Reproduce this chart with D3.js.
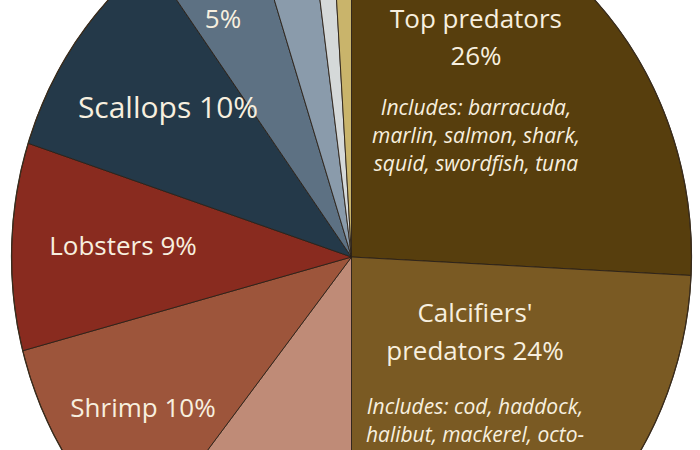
<!DOCTYPE html>
<html><head><meta charset="utf-8">
<script src="https://cdn.jsdelivr.net/npm/d3@7"></script>
<style>html,body{margin:0;padding:0;background:#fff;overflow:hidden}</style>
</head><body><svg id="c" width="700" height="450"></svg>
<script>
// ---- data ----
const categories = ["Top predators", "Calcifiers' predators", "Unlabeled slice", "Shrimp", "Lobsters", "Scallops", "Unnamed 5% slice", "Small slice A", "Small slice B", "Small slice C"];
const shares = [25.8, 24.2, 10.8, 10.1, 9.1, 9.9, 5.1, 2.9, 1.1, 1.0];
const titleLines = [["Top predators", "26%"], ["Calcifiers'", "predators 24%"], [], ["Shrimp 10%"], ["Lobsters 9%"], ["Scallops 10%"], ["5%"], [], [], []];
const noteLines = [["Includes: barracuda,", "marlin, salmon, shark,", "squid, swordfish, tuna"], ["Includes: cod, haddock,", "halibut, mackerel, octo-"], [], [], [], [], [], [], [], []];

// ---- styling / layout ----
const colors = ["#573e0d", "#7a5a23", "#bf8b77", "#9d553b", "#892b1f", "#243949", "#5d7183", "#8a9bab", "#d5d9d9", "#c9b46b"];
const titleSize = [26, 26, 0, 26, 26, 30, 26, 0, 0, 0];
const labelAnchor = [
  {x: 476, y: 28, gap: 37, noteY: 115},
  {x: 475, y: 322, gap: 38, noteY: 414},
  null,
  {x: 143, y: 417, gap: 0},
  {x: 123, y: 255, gap: 0},
  {x: 168, y: 118, gap: 0},
  {x: 223, y: 28, gap: 0},
  null, null, null
];
const W = 700, H = 450;
const cx = 351.5, cy = 257, rx = 340, ry = 368;

const svg = d3.select("#c");
const data = categories.map((c, i) => ({name: c, value: shares[i], i}));
const pie = d3.pie().value(d => d.value).sort(null).startAngle(0).endAngle(2 * Math.PI);
const arc = d3.arc().innerRadius(0).outerRadius(rx);
const color = d3.scaleOrdinal().domain(categories).range(colors);

const g = svg.append("g").attr("transform", `translate(${cx},${cy}) scale(1,${ry / rx})`);
g.selectAll("path.slice").data(pie(data)).join("path")
  .attr("class", "slice")
  .attr("d", arc)
  .attr("fill", d => color(d.data.name))
  .attr("stroke", "#2b2118")
  .attr("stroke-width", 0.9)
  .attr("vector-effect", "non-scaling-stroke");
g.append("circle").attr("r", rx).attr("fill", "none")
  .attr("stroke", "#3a2c1c").attr("stroke-width", 1.2)
  .attr("vector-effect", "non-scaling-stroke");

const lab = svg.append("g").attr("font-family", "'Open Sans', sans-serif").attr("fill", "#f7efdf").attr("text-anchor", "middle");
data.forEach((d, i) => {
  const a = labelAnchor[i];
  if (!a) return;
  titleLines[i].forEach((t, k) => {
    lab.append("text").attr("x", a.x).attr("y", a.y + k * a.gap)
      .attr("font-size", titleSize[i]).text(t);
  });
  noteLines[i].forEach((t, k) => {
    lab.append("text").attr("x", a.x).attr("y", a.noteY + k * 28)
      .attr("font-size", 21).attr("font-style", "italic").text(t);
  });
});
</script>
</body></html>
